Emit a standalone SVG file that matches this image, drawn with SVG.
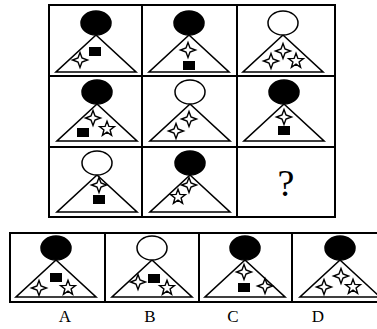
<svg xmlns="http://www.w3.org/2000/svg" xmlns:xlink="http://www.w3.org/1999/xlink" width="377" height="329" viewBox="0 0 377 329">
<style>
.frame{fill:none;stroke:#000;stroke-width:2}
.tri{fill:#fff;stroke:#000;stroke-width:1.6;stroke-linejoin:miter}
.hb{fill:#000;stroke:#000;stroke-width:1.5}
.hw{fill:#fff;stroke:#000;stroke-width:1.5}
.st{fill:#fff;stroke:#000;stroke-width:1.4;stroke-linejoin:miter}
.sq{fill:#000}
.lbl{font-family:"Liberation Serif",serif;font-size:17px;fill:#000;text-anchor:middle}
.q{font-family:"Liberation Serif",serif;font-size:38px;fill:#000;text-anchor:middle}
</style>
<defs>
<path id="s4" class="st" d="M0,-7.5 L2,-2 L7.5,0 L2,2 L0,7.5 L-2,2 L-7.5,0 L-2,-2 Z"/>
<path id="s5" class="st" d="M0,-7.8 L1.9,-2.6 L7.42,-2.41 L3.08,1.0 L4.58,6.31 L0,3.2 L-4.58,6.31 L-3.08,1.0 L-7.42,-2.41 L-1.9,-2.6 Z"/>
<polygon id="tri" class="tri" points="0,12 40,49 -40,49"/>
</defs>
<rect width="377" height="329" fill="#fff"/>
<g id="grid">
<rect class="frame" x="49" y="5" width="286" height="212"/>
<line class="frame" x1="142" y1="5" x2="142" y2="217"/>
<line class="frame" x1="237" y1="5" x2="237" y2="217"/>
<line class="frame" x1="49" y1="76" x2="335" y2="76"/>
<line class="frame" x1="49" y1="147" x2="335" y2="147"/>
</g>
<g id="options-frame">
<rect class="frame" x="10" y="233" width="380" height="69"/>
<line class="frame" x1="105" y1="233" x2="105" y2="302"/>
<line class="frame" x1="199" y1="233" x2="199" y2="302"/>
<line class="frame" x1="292" y1="233" x2="292" y2="302"/>
</g>
<g id="cell1" transform="translate(96,23)">
<use href="#tri"/><ellipse class="hb" rx="15" ry="12"/>
<rect class="sq" x="-7" y="24" width="12" height="9"/>
<use href="#s4" x="-16" y="37"/>
</g>
<g id="cell2" transform="translate(189,23)">
<use href="#tri"/><ellipse class="hb" rx="15" ry="12"/>
<use href="#s4" x="-1" y="27"/>
<rect class="sq" x="-6" y="38" width="12" height="9"/>
</g>
<g id="cell3" transform="translate(283,23)">
<use href="#tri"/><ellipse class="hw" rx="15" ry="12"/>
<use href="#s4" x="0" y="28"/>
<use href="#s4" x="-12" y="38"/>
<use href="#s5" x="13" y="38"/>
</g>
<g id="cell4" transform="translate(97,92)">
<use href="#tri"/><ellipse class="hb" rx="15" ry="12"/>
<rect class="sq" x="-20" y="36" width="12" height="9"/>
<use href="#s4" x="-4" y="26"/>
<use href="#s5" x="10" y="37"/>
</g>
<g id="cell5" transform="translate(190,92)">
<use href="#tri"/><ellipse class="hw" rx="15" ry="12"/>
<use href="#s4" x="-1" y="27"/>
<use href="#s4" x="-14" y="39"/>
</g>
<g id="cell6" transform="translate(284,92)">
<use href="#tri"/><ellipse class="hb" rx="15" ry="12"/>
<use href="#s4" x="0" y="25"/>
<rect class="sq" x="-6" y="34" width="12" height="9"/>
</g>
<g id="cell7" transform="translate(97,163)">
<use href="#tri"/><ellipse class="hw" rx="15" ry="12"/>
<use href="#s4" x="2" y="22"/>
<rect class="sq" x="-4" y="32" width="12" height="9"/>
</g>
<g id="cell8" transform="translate(190,163)">
<use href="#tri"/><ellipse class="hb" rx="15" ry="12"/>
<use href="#s4" x="-1" y="22"/>
<use href="#s5" x="-12" y="34"/>
</g>
<g id="cell9">
<text class="q" x="286" y="196">?</text>
</g>
<g id="optA" transform="translate(56,248)">
<use href="#tri"/><ellipse class="hb" rx="15" ry="12"/>
<rect class="sq" x="-6" y="25" width="12" height="9"/>
<use href="#s4" x="-17" y="40"/>
<use href="#s5" x="12" y="40"/>
</g>
<g id="optB" transform="translate(152,248)">
<use href="#tri"/><ellipse class="hw" rx="15" ry="12"/>
<use href="#s4" x="-14" y="34"/>
<rect class="sq" x="-4" y="26" width="12" height="9"/>
<use href="#s5" x="15" y="40"/>
</g>
<g id="optC" transform="translate(245,248)">
<use href="#tri"/><ellipse class="hb" rx="15" ry="12"/>
<use href="#s4" x="-1" y="24"/>
<rect class="sq" x="-7" y="35" width="12" height="9"/>
<use href="#s4" x="20" y="38"/>
</g>
<g id="optD" transform="translate(340,248)">
<use href="#tri"/><ellipse class="hb" rx="15" ry="12"/>
<use href="#s4" x="1" y="28"/>
<use href="#s4" x="-16" y="39"/>
<use href="#s5" x="13" y="39"/>
</g>
<g id="labels">
<text class="lbl" x="65" y="322">A</text>
<text class="lbl" x="150" y="322">B</text>
<text class="lbl" x="233" y="322">C</text>
<text class="lbl" x="318" y="322">D</text>
</g>
</svg>
